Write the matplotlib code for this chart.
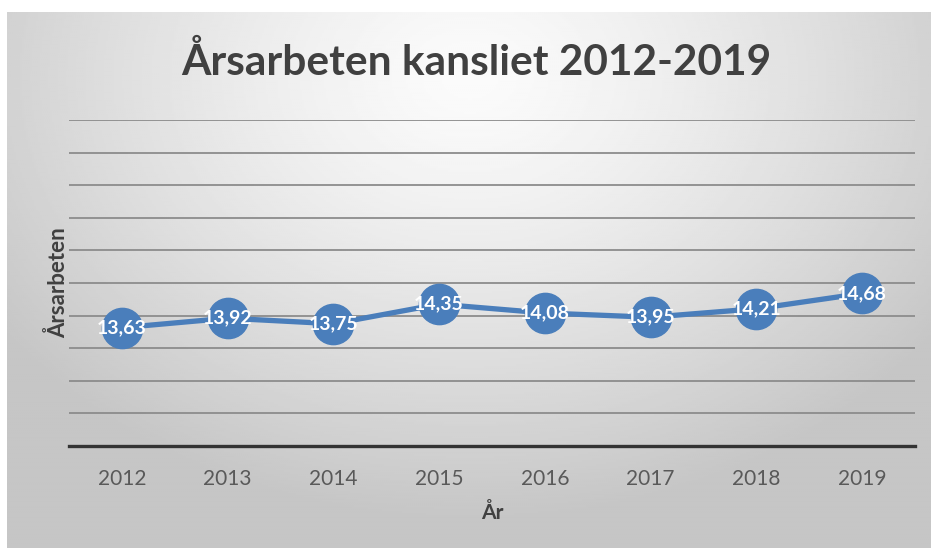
import numpy as np
import matplotlib
matplotlib.use("Agg")
import matplotlib.pyplot as plt

# ---------------- DATA ----------------
years = ["2012", "2013", "2014", "2015", "2016", "2017", "2018", "2019"]
values = [13.63, 13.92, 13.75, 14.35, 14.08, 13.95, 14.21, 14.68]
labels = ["13,63", "13,92", "13,75", "14,35", "14,08", "13,95", "14,21", "14,68"]

plt.rcParams["font.family"] = ["Lato", "DejaVu Sans"]

fig = plt.figure(figsize=(9.31, 5.5), dpi=100)
fig.patch.set_facecolor("white")

# ---------------- BACKGROUND (radial gray gradient) ----------------
bg = fig.add_axes([7 / 931, 2 / 550, 924 / 931, 536 / 550])
bg.set_axis_off()
h, w = 270, 462
yy, xx = np.mgrid[0:h, 0:w]
cx, cy = w * 0.50, h * 0.12
r = np.sqrt(((xx - cx) / w) ** 2 + ((yy - cy) / h * 0.75) ** 2)
r = np.clip(r / 0.62, 0, 1)
shade = 0.985 - 0.21 * r ** 1.3
bg.imshow(shade, cmap="gray", vmin=0, vmax=1, aspect="auto",
          extent=[0, 1, 0, 1], interpolation="bilinear")
bg.set_xlim(0, 1)
bg.set_ylim(0, 1)

# ---------------- CHART ----------------
ax = fig.add_axes([69 / 931, 104 / 550, 846 / 931, 326 / 550])
ax.patch.set_alpha(0)
x = np.arange(len(years))
ax.set_xlim(-0.5, len(years) - 0.5)
ax.set_ylim(10, 20)
ax.set_yticks(np.arange(10, 21, 1))
ax.yaxis.grid(True, color="#8c8c8c", linewidth=1.3)
ax.set_axisbelow(True)
ax.tick_params(axis="y", left=False, labelleft=False)
ax.tick_params(axis="x", bottom=False, labelsize=15, labelcolor="#595959", pad=13)
for s in ["top", "right", "left"]:
    ax.spines[s].set_visible(False)
ax.spines["bottom"].set_color("#333333")
ax.spines["bottom"].set_linewidth(2.4)
ax.set_xticks(x)
ax.set_xticklabels(years)

ax.plot(x, values, color="#4a7ebb", linewidth=3.8, marker="o",
        markersize=29, markerfacecolor="#4a7ebb", markeredgecolor="#4a7ebb",
        zorder=3)
for xi, v, lab in zip(x, values, labels):
    ax.text(xi, v, lab, ha="center", va="center", color="white",
            fontsize=14, fontweight="bold", zorder=4)

ax.set_xlabel("År", fontsize=15, fontweight="bold", color="#404040", labelpad=10)
ax.set_ylabel("Årsarbeten", fontsize=16, fontweight="bold", color="#404040", labelpad=0)

fig.text(0.512, 0.887, "Årsarbeten kansliet 2012-2019", ha="center", va="center",
         fontsize=30.5, fontweight="bold", color="#404040")

fig.savefig("out.png", dpi=100)
